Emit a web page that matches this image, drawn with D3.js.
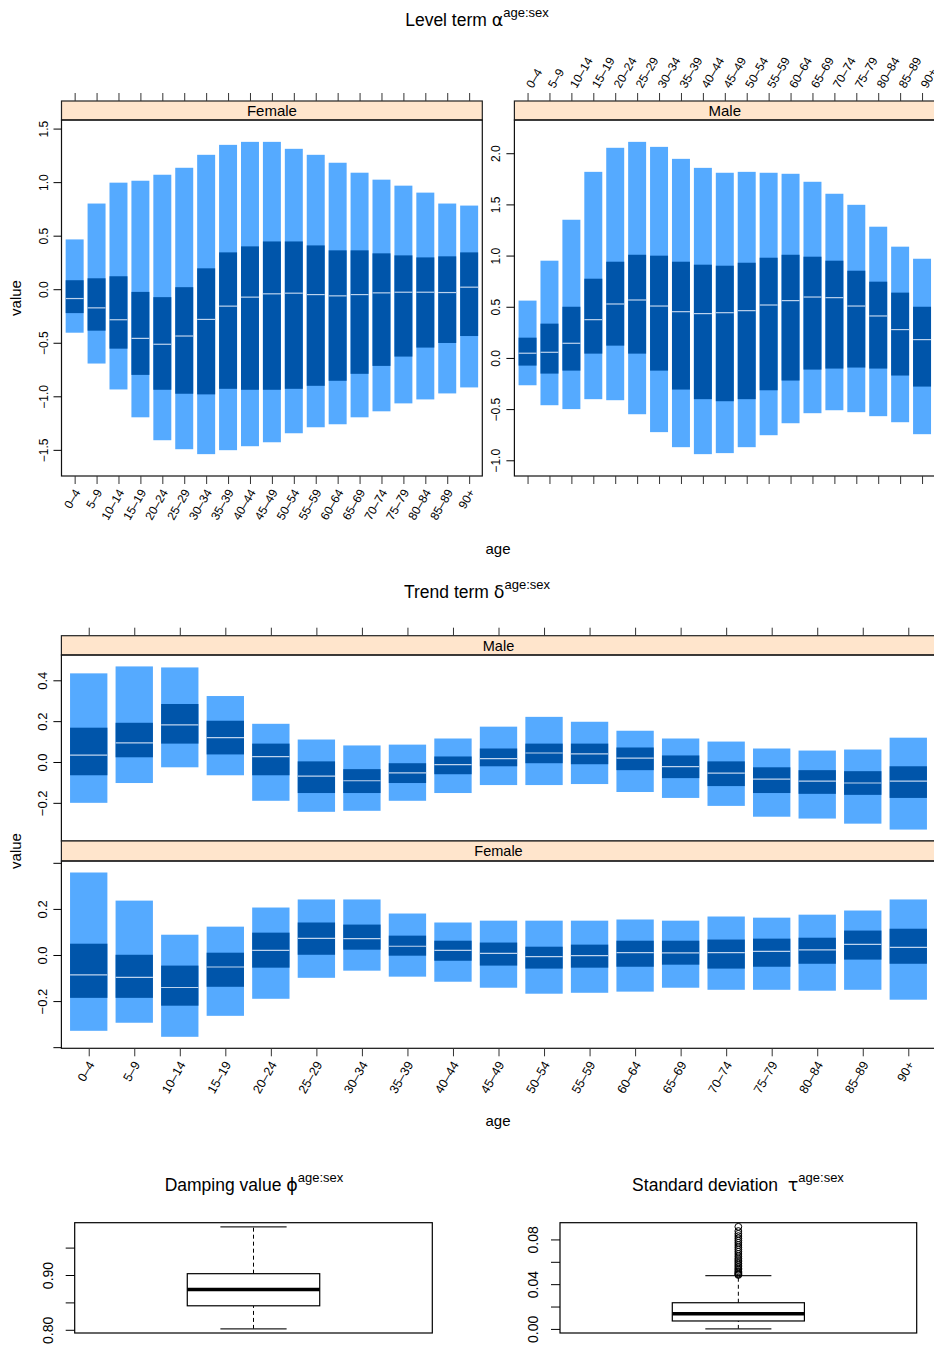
<!DOCTYPE html>
<html>
<head>
<meta charset="utf-8">
<script src="https://cdn.jsdelivr.net/npm/d3@7"></script>
<style>
body { margin: 0; background: #fff; }
text { font-family: "Liberation Sans", Arial, Helvetica, sans-serif; fill: #000; }
</style>
</head>
<body>
<script>
var ageGroups = ["0–4","5–9","10–14","15–19","20–24","25–29","30–34","35–39","40–44","45–49",
                 "50–54","55–59","60–64","65–69","70–74","75–79","80–84","85–89","90+"];

// level term alpha, female
var levelFemaleHi95 = [0.465, 0.80, 0.995, 1.013, 1.069, 1.134, 1.255, 1.348, 1.376, 1.376, 1.311, 1.255, 1.181, 1.088, 1.023, 0.967, 0.902, 0.80, 0.781];
var levelFemaleHi50 = [0.084, 0.102, 0.121, -0.025, -0.074, 0.019, 0.195, 0.344, 0.40, 0.446, 0.446, 0.409, 0.363, 0.363, 0.335, 0.316, 0.297, 0.307, 0.344];
var levelFemaleMed  = [-0.087, -0.174, -0.285, -0.459, -0.514, -0.437, -0.282, -0.158, -0.074, -0.043, -0.037, -0.05, -0.062, -0.05, -0.034, -0.028, -0.028, -0.031, 0.019];
var levelFemaleLo50 = [-0.223, -0.387, -0.555, -0.80, -0.939, -0.976, -0.982, -0.93, -0.939, -0.939, -0.93, -0.902, -0.855, -0.79, -0.716, -0.629, -0.545, -0.502, -0.437];
var levelFemaleLo95 = [-0.406, -0.694, -0.936, -1.196, -1.41, -1.494, -1.54, -1.503, -1.466, -1.429, -1.345, -1.289, -1.261, -1.196, -1.14, -1.066, -1.029, -0.973, -0.917];

// level term alpha, male
var levelMaleHi95 = [0.56, 0.95, 1.35, 1.818, 2.053, 2.111, 2.062, 1.945, 1.857, 1.809, 1.818, 1.809, 1.799, 1.721, 1.604, 1.496, 1.282, 1.087, 0.969];
var levelMaleHi50 = [0.198, 0.335, 0.50, 0.774, 0.94, 1.008, 0.999, 0.94, 0.911, 0.901, 0.93, 0.979, 1.008, 0.989, 0.95, 0.852, 0.745, 0.638, 0.50];
var levelMaleMed  = [0.046, 0.055, 0.143, 0.374, 0.527, 0.566, 0.507, 0.452, 0.433, 0.442, 0.462, 0.517, 0.56, 0.595, 0.589, 0.507, 0.41, 0.277, 0.179];
var levelMaleLo50 = [-0.075, -0.153, -0.124, 0.042, 0.12, 0.042, -0.124, -0.309, -0.403, -0.423, -0.403, -0.316, -0.221, -0.114, -0.104, -0.094, -0.104, -0.172, -0.28];
var levelMaleLo95 = [-0.267, -0.462, -0.50, -0.403, -0.413, -0.55, -0.725, -0.872, -0.94, -0.93, -0.872, -0.755, -0.638, -0.54, -0.511, -0.53, -0.569, -0.628, -0.745];

// trend term delta, male
var trendMaleHi95 = [0.434, 0.468, 0.463, 0.323, 0.187, 0.11, 0.081, 0.085, 0.115, 0.173, 0.221, 0.197, 0.153, 0.115, 0.10, 0.066, 0.056, 0.061, 0.119];
var trendMaleHi50 = [0.168, 0.192, 0.284, 0.202, 0.09, 0.003, -0.035, -0.006, 0.027, 0.066, 0.09, 0.09, 0.071, 0.032, 0.003, -0.026, -0.04, -0.045, -0.021];
var trendMaleMed  = [0.034, 0.094, 0.182, 0.119, 0.026, -0.069, -0.092, -0.053, -0.013, 0.016, 0.044, 0.04, 0.019, -0.023, -0.055, -0.084, -0.094, -0.103, -0.094];
var trendMaleLo50 = [-0.065, 0.023, 0.09, 0.037, -0.065, -0.152, -0.152, -0.103, -0.06, -0.021, -0.006, -0.011, -0.04, -0.079, -0.118, -0.152, -0.156, -0.161, -0.176];
var trendMaleLo95 = [-0.20, -0.103, -0.026, -0.065, -0.19, -0.244, -0.239, -0.19, -0.152, -0.113, -0.113, -0.108, -0.147, -0.176, -0.215, -0.268, -0.277, -0.302, -0.331];

// trend term delta, female
var trendFemaleHi95 = [0.358, 0.236, 0.088, 0.123, 0.206, 0.241, 0.241, 0.18, 0.141, 0.149, 0.149, 0.149, 0.154, 0.149, 0.167, 0.162, 0.175, 0.193, 0.241];
var trendFemaleHi50 = [0.049, 0.001, -0.046, 0.01, 0.097, 0.141, 0.132, 0.084, 0.062, 0.054, 0.036, 0.045, 0.062, 0.062, 0.067, 0.071, 0.075, 0.106, 0.114];
var trendFemaleMed  = [-0.086, -0.097, -0.141, -0.052, 0.02, 0.072, 0.071, 0.038, 0.02, 0.007, -0.007, -0.003, 0.01, 0.009, 0.01, 0.016, 0.022, 0.046, 0.033];
var trendFemaleLo50 = [-0.186, -0.186, -0.22, -0.138, -0.055, 0.001, 0.023, -0.003, -0.025, -0.046, -0.059, -0.055, -0.051, -0.042, -0.059, -0.051, -0.038, -0.02, -0.038];
var trendFemaleLo95 = [-0.329, -0.294, -0.355, -0.264, -0.19, -0.099, -0.068, -0.094, -0.116, -0.142, -0.168, -0.164, -0.159, -0.142, -0.151, -0.151, -0.155, -0.151, -0.194];

// boxplot stats: lower whisker, q1, median, q3, upper whisker
var dampingStats = [0.8016, 0.8438, 0.8736, 0.9024, 0.988];
var sdStats = [0.0, 0.0071, 0.0136, 0.0234, 0.0477];
var sdOutliers = [0.0482, 0.0488, 0.0495, 0.0505, 0.0515, 0.0528, 0.054, 0.0555, 0.057, 0.0585, 0.060, 0.0615,
                  0.063, 0.065, 0.067, 0.069, 0.071, 0.073, 0.075, 0.077, 0.079, 0.081, 0.083, 0.085, 0.0875, 0.0913];

var lightBlue = "#55aaff", darkBlue = "#0055aa", medianCol = "#bcd3ee", stripFill = "#ffe5cc";
var fmt1 = d3.format(".1f"), fmt2 = d3.format(".2f");

var svg = d3.select("body").append("svg")
    .attr("width", 934)
    .attr("height", 1347);

function title(x, y, main, sym)
{
    var t = svg.append("text")
        .attr("x", x)
        .attr("y", y)
        .style("text-anchor", "middle")
        .style("font-size", "17.5px")
        .style("white-space", "pre");
    t.append("tspan").text(main);
    t.append("tspan").style("font-family", "'DejaVu Sans', sans-serif").text(sym);
    t.append("tspan").attr("dy", -9).style("font-size", "13px").text("age:sex");
}

// one lattice panel with 95% / 50% interval bars and median line
function drawPanel(o)
{
    var ext = d3.extent(o.lo95.concat(o.hi95));
    var pad = (ext[1] - ext[0]) * 0.07;
    var x = d3.scaleLinear().domain([0.4, ageGroups.length + 0.6]).range([o.x0, o.x1]);
    var y = d3.scaleLinear().domain([ext[0] - pad, ext[1] + pad]).range([o.bottom, o.top]);
    var bw = (x(2) - x(1)) * 0.82;
    var idx = d3.range(ageGroups.length);
    var g = svg.append("g");

    g.selectAll("rect.outer").data(idx).join("rect")
        .attr("x", function(i) { return x(i + 1) - bw / 2; })
        .attr("y", function(i) { return y(o.hi95[i]); })
        .attr("width", bw)
        .attr("height", function(i) { return y(o.lo95[i]) - y(o.hi95[i]); })
        .attr("fill", lightBlue);
    g.selectAll("rect.inner").data(idx).join("rect")
        .attr("x", function(i) { return x(i + 1) - bw / 2; })
        .attr("y", function(i) { return y(o.hi50[i]); })
        .attr("width", bw)
        .attr("height", function(i) { return y(o.lo50[i]) - y(o.hi50[i]); })
        .attr("fill", darkBlue);
    g.selectAll("line.med").data(idx).join("line")
        .attr("x1", function(i) { return x(i + 1) - bw / 2; })
        .attr("x2", function(i) { return x(i + 1) + bw / 2; })
        .attr("y1", function(i) { return y(o.med[i]); })
        .attr("y2", function(i) { return y(o.med[i]); })
        .attr("stroke", medianCol)
        .attr("stroke-width", 1.2);

    // strip
    svg.append("rect")
        .attr("x", o.x0).attr("y", o.stripTop)
        .attr("width", o.x1 - o.x0).attr("height", o.top - o.stripTop)
        .attr("fill", stripFill).attr("stroke", "#222").attr("stroke-width", 1.2);
    svg.append("text")
        .attr("x", (o.x0 + o.x1) / 2).attr("y", (o.stripTop + o.top) / 2)
        .attr("dy", "0.36em")
        .style("text-anchor", "middle")
        .style("font-size", o.stripSize + "px")
        .text(o.label);
    // panel box
    svg.append("rect")
        .attr("x", o.x0).attr("y", o.top)
        .attr("width", o.x1 - o.x0).attr("height", o.bottom - o.top)
        .attr("fill", "none").attr("stroke", "#111").attr("stroke-width", 1.2);

    // y axis, rotated labels
    var ya = svg.append("g")
        .attr("transform", "translate(" + o.x0 + ",0)")
        .call(d3.axisLeft(y).ticks(5).tickSize(8).tickFormat(function(d) {
            return o.hideY && Math.abs(d) > 0.3 ? "" : fmt1(d);
        }));
    ya.select(".domain").remove();
    ya.selectAll("text")
        .attr("transform", "rotate(-90)")
        .attr("x", 0).attr("y", -14).attr("dy", null)
        .style("text-anchor", "middle")
        .style("font-size", o.tickSize + "px");
    return { x: x, y: y };
}

function ageAxis(x, ypos, side, labels, fs)
{
    var ax = side == "top" ? d3.axisTop(x) : d3.axisBottom(x);
    ax.tickValues(d3.range(1, ageGroups.length + 1)).tickSize(8)
      .tickFormat(function(i) { return labels ? ageGroups[i - 1] : ""; });
    var a = svg.append("g").attr("transform", "translate(0," + ypos + ")").call(ax);
    a.select(".domain").remove();
    a.selectAll("line").attr("stroke", "#333");
    if (!labels) return;
    a.selectAll("text")
        .attr("x", 0).attr("y", 0).attr("dy", "0.35em")
        .style("font-size", fs + "px")
        .style("text-anchor", side == "top" ? "start" : "end")
        .attr("transform", side == "top" ? "translate(1,-14) rotate(-60)" : "translate(2,14) rotate(-60)");
}

function sideLabel(x, y, txt)
{
    svg.append("text")
        .attr("transform", "translate(" + x + "," + y + ") rotate(-90)")
        .style("text-anchor", "middle")
        .style("font-size", "15px")
        .text(txt);
}

function bottomLabel(x, y, txt)
{
    svg.append("text")
        .attr("x", x).attr("y", y)
        .style("text-anchor", "middle")
        .style("font-size", "15px")
        .text(txt);
}

// ---- Level term ----
title(477, 26, "Level term ", "α");
var pF = drawPanel({ x0: 61.5, x1: 482.3, stripTop: 101, top: 120, bottom: 476, label: "Female",
    lo95: levelFemaleLo95, lo50: levelFemaleLo50, med: levelFemaleMed, hi50: levelFemaleHi50, hi95: levelFemaleHi95,
    stripSize: 15, tickSize: 12 });
var pM = drawPanel({ x0: 514.4, x1: 935.2, stripTop: 101, top: 120, bottom: 476, label: "Male",
    lo95: levelMaleLo95, lo50: levelMaleLo50, med: levelMaleMed, hi50: levelMaleHi50, hi95: levelMaleHi95,
    stripSize: 15, tickSize: 12 });
ageAxis(pF.x, 476, "bottom", true, 12);
ageAxis(pF.x, 101, "top", false);
ageAxis(pM.x, 101, "top", true, 12);
ageAxis(pM.x, 476, "bottom", false);
sideLabel(21, 298, "value");
bottomLabel(498, 554, "age");

// ---- Trend term ----
title(477, 598, "Trend term ", "δ");
var tM = drawPanel({ x0: 61.4, x1: 935.6, stripTop: 635.7, top: 655, bottom: 841, label: "Male",
    lo95: trendMaleLo95, lo50: trendMaleLo50, med: trendMaleMed, hi50: trendMaleHi50, hi95: trendMaleHi95,
    stripSize: 14.5, tickSize: 13 });
var tF = drawPanel({ x0: 61.4, x1: 935.6, stripTop: 841, top: 861, bottom: 1048.3, label: "Female",
    lo95: trendFemaleLo95, lo50: trendFemaleLo50, med: trendFemaleMed, hi50: trendFemaleHi50, hi95: trendFemaleHi95,
    stripSize: 14.5, tickSize: 13, hideY: true });
ageAxis(tM.x, 635.7, "top", false);
ageAxis(tF.x, 1048.3, "bottom", true, 12.5);
sideLabel(21, 851, "value");
bottomLabel(498, 1126, "age");

// ---- boxplots ----
function drawBox(o)
{
    var vals = o.stats.concat(o.outliers || []);
    var ext = d3.extent(vals), pad = (ext[1] - ext[0]) * 0.04;
    var x = d3.scaleLinear().domain([0.46, 1.54]).range([o.x0, o.x1]);
    var y = d3.scaleLinear().domain([ext[0] - pad, ext[1] + pad]).range([o.bottom, o.top]);
    var s = o.stats;
    var g = svg.append("g");
    g.append("rect")
        .attr("x", o.x0).attr("y", o.top)
        .attr("width", o.x1 - o.x0).attr("height", o.bottom - o.top)
        .attr("fill", "none").attr("stroke", "#000").attr("stroke-width", 1.2);
    // whiskers
    [[s[0], s[1]], [s[3], s[4]]].forEach(function(w) {
        g.append("line")
            .attr("x1", x(1)).attr("x2", x(1))
            .attr("y1", y(w[0])).attr("y2", y(w[1]))
            .attr("stroke", "#000").attr("stroke-dasharray", "4,3");
    });
    [s[0], s[4]].forEach(function(v) {
        g.append("line")
            .attr("x1", x(0.9)).attr("x2", x(1.1))
            .attr("y1", y(v)).attr("y2", y(v))
            .attr("stroke", "#222").attr("stroke-width", 1.2);
    });
    g.append("rect")
        .attr("x", x(0.8)).attr("y", y(s[3]))
        .attr("width", x(1.2) - x(0.8)).attr("height", y(s[1]) - y(s[3]))
        .attr("fill", "#fff").attr("stroke", "#000").attr("stroke-width", 1.2);
    g.append("line")
        .attr("x1", x(0.8)).attr("x2", x(1.2))
        .attr("y1", y(s[2])).attr("y2", y(s[2]))
        .attr("stroke", "#000").attr("stroke-width", 3.5);
    g.selectAll("circle").data(o.outliers || []).join("circle")
        .attr("cx", x(1)).attr("cy", function(d) { return y(d); })
        .attr("r", 3.4)
        .attr("fill", "none").attr("stroke", "#000").attr("stroke-width", 1);

    var ya = svg.append("g")
        .attr("transform", "translate(" + o.x0 + ",0)")
        .call(d3.axisLeft(y).ticks(5).tickSize(9).tickFormat(function(d, i) {
            return i % 2 == 0 ? fmt2(d) : "";
        }));
    ya.select(".domain").remove();
    ya.selectAll("text")
        .attr("transform", "rotate(-90)")
        .attr("x", 0).attr("y", -22).attr("dy", null)
        .style("text-anchor", "middle")
        .style("font-size", "14px");
}

title(254, 1191, "Damping value ", "ϕ");
drawBox({ x0: 74.7, x1: 432.3, top: 1222.7, bottom: 1333, stats: dampingStats, outliers: [] });
title(738, 1191, "Standard deviation  ", "τ");
drawBox({ x0: 560, x1: 916.7, top: 1222.7, bottom: 1333, stats: sdStats, outliers: sdOutliers });
</script>
</body>
</html>
